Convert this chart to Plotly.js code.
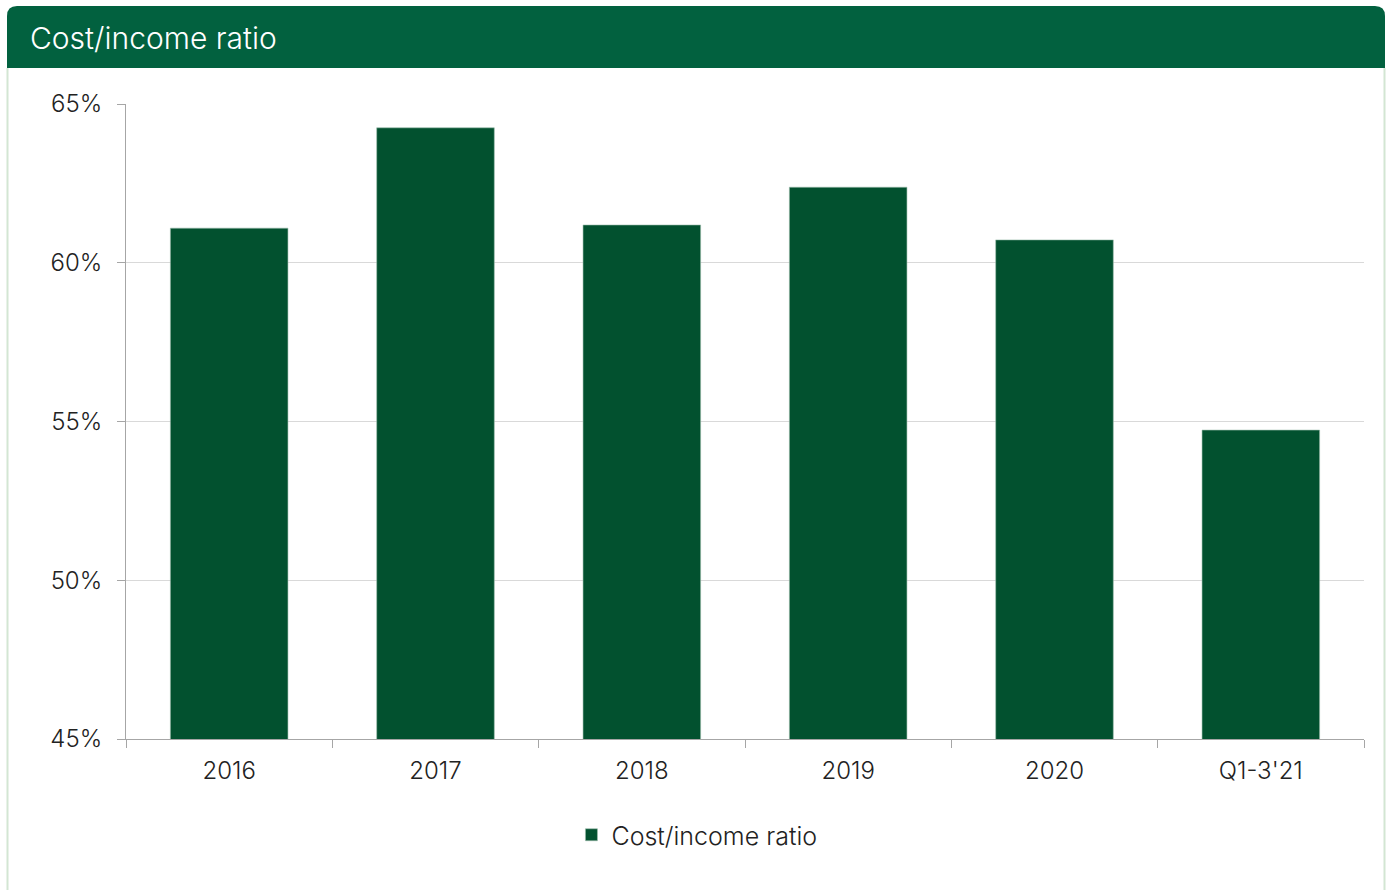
<!DOCTYPE html>
<html>
<head>
<meta charset="utf-8">
<script src="https://cdn.plot.ly/plotly-3.0.1.min.js"></script>
<style>
html,body{margin:0;padding:0;background:#fff;}
#chart{width:1388px;height:890px;}
</style>
</head>
<body>
<div id="chart"></div>
<script>
const categories = ["2016", "2017", "2018", "2019", "2020", "Q1-3'21"];
const costIncomeRatio = [61.09, 64.25, 61.19, 62.38, 60.72, 54.73];
const seriesName = "Cost/income ratio";
const chartTitle = "Cost/income ratio";

const W = 1388, H = 890;
const L = 126, R = 24, T = 104, B = 151;
const pw = W - L - R, ph = H - T - B;
function px(x){ return (x - L) / pw; }
function py(y){ return (H - B - y) / ph; }

const FONT = "Inter, 'Open Sans', sans-serif";

// header rounded rectangle path in paper coords
const hx0 = 7, hx1 = 1385, hy0 = 6, hy1 = 68, r = 10;
function P(x, y){ return px(x).toFixed(5) + "," + py(y).toFixed(5); }
const headerPath = "M" + P(hx0, hy1) + " L" + P(hx0, hy0 + r) +
  " Q" + P(hx0, hy0) + " " + P(hx0 + r, hy0) +
  " L" + P(hx1 - r, hy0) +
  " Q" + P(hx1, hy0) + " " + P(hx1, hy0 + r) +
  " L" + P(hx1, hy1) + " Z";

const trace = {
  type: "bar",
  x: categories,
  y: costIncomeRatio,
  name: seriesName,
  marker: {color: "#02512F", line: {color: "#9fbfae", width: 0.6}},
  width: 0.57,
  showlegend: true,
  hoverinfo: "x+y"
};

const layout = {
  width: W, height: H,
  margin: {l: L, r: R, t: T, b: B},
  paper_bgcolor: "#ffffff",
  plot_bgcolor: "#ffffff",
  font: {family: FONT, color: "#222222", size: 24},
  title: {
    text: chartTitle,
    xref: "container", yref: "container",
    x: 30 / W, xanchor: "left",
    y: 1 - 38 / H, yanchor: "middle",
    font: {size: 30, color: "#ffffff", family: FONT, weight: 300}
  },
  xaxis: {
    type: "category",
    showline: true, linecolor: "#a6a6a6", linewidth: 1,
    ticks: "outside", tickson: "boundaries", ticklen: 8, tickcolor: "#a6a6a6",
    showgrid: false,
    tickfont: {size: 24, color: "#222222", family: FONT, weight: 300},
    ticklabelstandoff: 10,
    fixedrange: true
  },
  yaxis: {
    range: [45, 65],
    dtick: 5, tick0: 45,
    ticksuffix: "%",
    showline: true, linecolor: "#a6a6a6", linewidth: 1,
    ticks: "outside", ticklen: 8, tickcolor: "#a6a6a6",
    showgrid: true, gridcolor: "#d9d9d9", gridwidth: 1,
    zeroline: false,
    tickfont: {size: 24, color: "#222222", family: FONT, weight: 300},
    ticklabelstandoff: 10,
    fixedrange: true
  },
  bargap: 0.43,
  showlegend: true,
  legend: {
    orientation: "h",
    xref: "container", yref: "container",
    x: 0.505, xanchor: "center",
    y: 1 - 835 / H, yanchor: "middle",
    font: {size: 25, color: "#222222", family: FONT, weight: 300},
    itemwidth: 30,
    indentation: -8
  },
  shapes: [
    {type: "path", xref: "paper", yref: "paper", path: headerPath,
     fillcolor: "#02613F", line: {width: 0}, layer: "below"},
    {type: "line", xref: "paper", yref: "paper",
     x0: px(7.5), x1: px(7.5), y0: py(68), y1: py(890),
     line: {color: "#d3e6d3", width: 2}},
    {type: "line", xref: "paper", yref: "paper",
     x0: px(1384.5), x1: px(1384.5), y0: py(68), y1: py(890),
     line: {color: "#d3e6d3", width: 2}}
  ]
};

Plotly.newPlot("chart", [trace], layout, {displayModeBar: false, staticPlot: true});
</script>
</body>
</html>
